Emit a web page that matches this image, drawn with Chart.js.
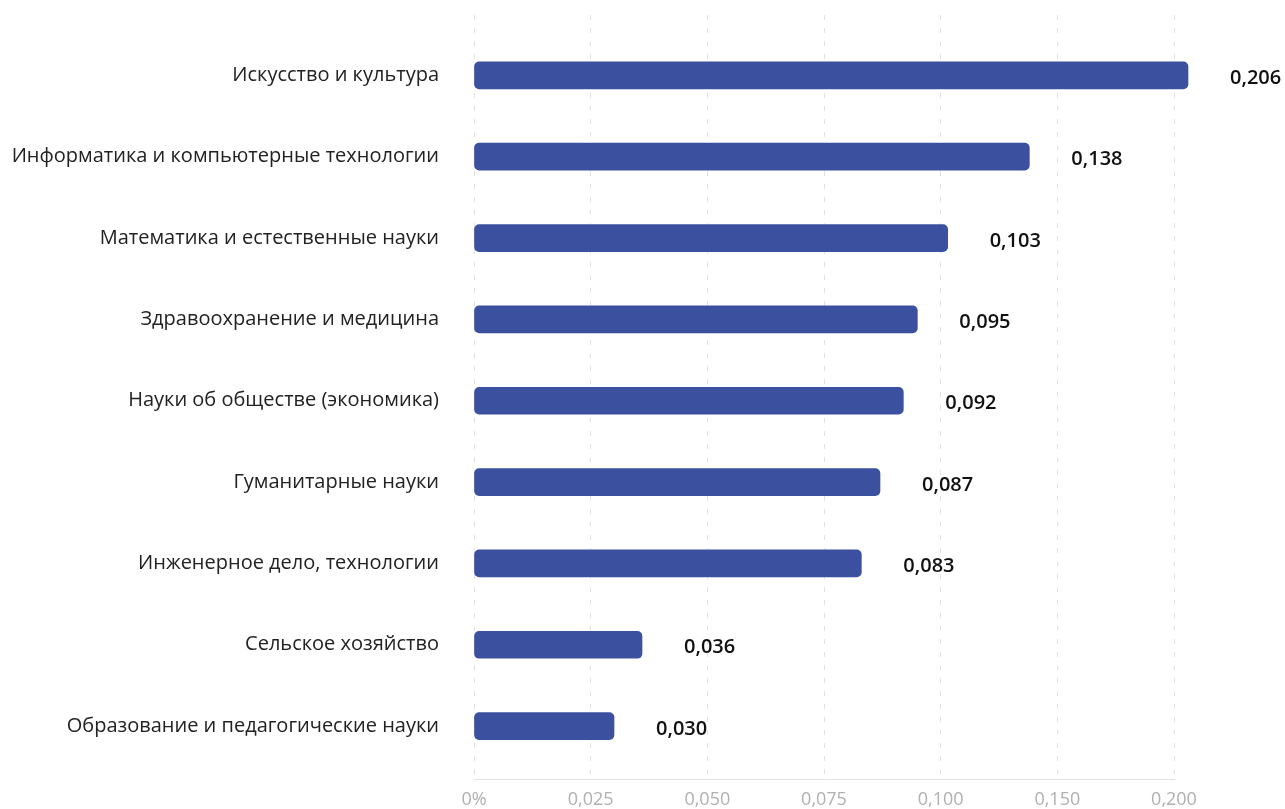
<!DOCTYPE html>
<html>
<head>
<meta charset="utf-8">
<script src="https://cdn.jsdelivr.net/npm/chart.js@4/dist/chart.umd.min.js"></script>
<style>
  html, body { margin: 0; padding: 0; background: #fff; }
</style>
</head>
<body>
<canvas id="chart" width="1285" height="809"></canvas>
<script>
const categories = [
    'Искусство и культура',
    'Информатика и компьютерные технологии',
    'Математика и естественные науки',
    'Здравоохранение и медицина',
    'Науки об обществе (экономика)',
    'Гуманитарные науки',
    'Инженерное дело, технологии',
    'Сельское хозяйство',
    'Образование и педагогические науки'
];
const values = [0.206, 0.138, 0.103, 0.095, 0.092, 0.087, 0.083, 0.036, 0.030];
const tickValues = [0, 0.025, 0.05, 0.075, 0.1, 0.15, 0.2];
const tickLabels = ['0%', '0,025', '0,050', '0,075', '0,100', '0,150', '0,200'];

// the axis in the source is piecewise: equal steps between uneven tick values
function toSlot(v) {
    for (let i = 1; i < tickValues.length; i++) {
        if (v <= tickValues[i] || i === tickValues.length - 1) {
            const a = tickValues[i - 1], b = tickValues[i];
            return (i - 1) + (v - a) / (b - a);
        }
    }
    return 0;
}

const valueLabels = {
    id: 'valueLabels',
    afterDatasetsDraw(chart) {
        const ctx = chart.ctx;
        const meta = chart.getDatasetMeta(0);
        ctx.save();
        ctx.font = '600 20px "Open Sans"';
        ctx.fillStyle = '#111';
        ctx.textAlign = 'left';
        ctx.textBaseline = 'middle';
        meta.data.forEach((bar, i) => {
            const txt = values[i].toFixed(3).replace('.', ',');
            ctx.fillText(txt, bar.x + 42, bar.y + 3);
        });
        ctx.restore();
    }
};

const ctx = document.getElementById('chart').getContext('2d');
const chart = new Chart(ctx, {
    type: 'bar',
    data: {
        datasets: [{
            data: values.map((v, i) => ({ x: toSlot(v), y: i })),
            backgroundColor: '#3b51a0',
            borderRadius: 5,
            borderSkipped: false,
            barThickness: 27,
            clip: false
        }]
    },
    options: {
        indexAxis: 'y',
        responsive: false,
        animation: false,
        layout: {
            padding: { top: 15, right: 111, left: 0, bottom: 0 }
        },
        plugins: {
            legend: { display: false },
            tooltip: { enabled: false }
        },
        scales: {
            x: {
                type: 'linear',
                min: 0,
                max: tickValues.length - 1,
                afterBuildTicks: scale => {
                    scale.ticks = tickLabels.map((_, i) => ({ value: i }));
                },
                afterFit: scale => {
                    scale.height = 30;
                    scale.paddingLeft = 0;
                    scale.paddingRight = 0;
                },
                grid: {
                    color: '#e2e2e2',
                    drawTicks: false
                },
                border: {
                    display: true,
                    color: '#e2e2e2',
                    dash: [5, 8]
                },
                ticks: {
                    padding: 10,
                    color: '#b0b0b0',
                    font: { family: 'Open Sans', size: 18 },
                    callback: value => tickLabels[value]
                }
            },
            y: {
                type: 'linear',
                reverse: true,
                offset: false,
                min: -0.742,
                max: 8.65,
                afterBuildTicks: scale => {
                    scale.ticks = categories.map((_, i) => ({ value: i }));
                },
                afterFit: scale => {
                    scale.width = 474;
                    scale.paddingTop = 0;
                    scale.paddingBottom = 0;
                },
                grid: { display: false, offset: false },
                border: { display: false },
                ticks: {
                    autoSkip: false,
                    padding: 27,
                    color: '#222',
                    font: { family: 'Open Sans', size: 20 },
                    callback: value => categories[value]
                }
            }
        }
    },
    plugins: [valueLabels]
});
</script>
</body>
</html>
